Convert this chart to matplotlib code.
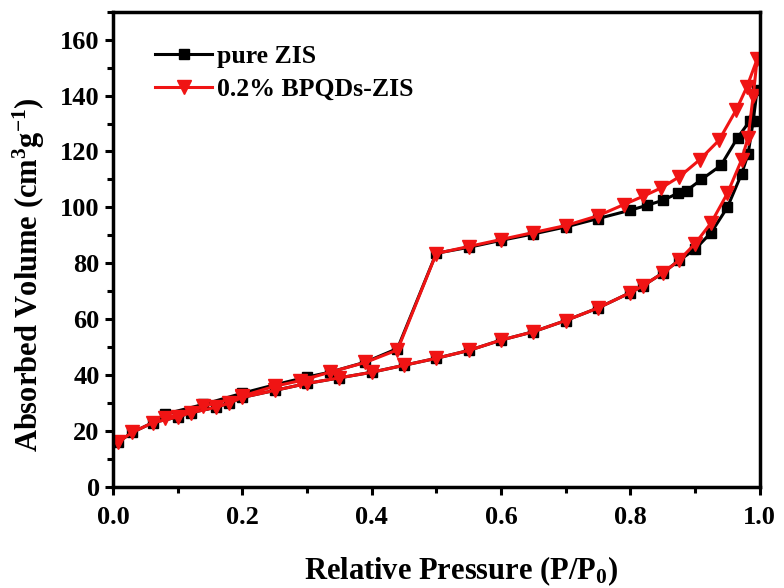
import matplotlib
matplotlib.use("Agg")
import matplotlib.pyplot as plt
from matplotlib.ticker import MultipleLocator

plt.rcParams['font.family'] = ['Liberation Serif', 'DejaVu Serif']
plt.rcParams['font.weight'] = 'bold'
plt.rcParams['mathtext.fontset'] = 'custom'
plt.rcParams['mathtext.rm'] = 'Liberation Serif:bold'
plt.rcParams['mathtext.bf'] = 'Liberation Serif:bold'
plt.rcParams['mathtext.it'] = 'Liberation Serif:bold'
plt.rcParams['mathtext.default'] = 'rm'

# pure ZIS
black_ads_x = [0.008, 0.03, 0.062, 0.10, 0.12, 0.16, 0.18, 0.20, 0.25, 0.30, 0.35, 0.40, 0.45,
               0.50, 0.55, 0.60, 0.65, 0.70, 0.75, 0.80, 0.82, 0.85, 0.875, 0.90, 0.925, 0.95,
               0.972, 0.982, 0.99, 0.996]
black_ads_y = [16, 19.5, 23, 25, 26.5, 28.5, 30, 32, 34.5, 37, 39, 41, 43.5,
               46, 48.8, 52.5, 55.5, 59.5, 64, 69.5, 72, 76.5, 81, 85, 91, 100,
               112, 119, 131, 142]
black_des_x = [0.985, 0.966, 0.94, 0.91, 0.887, 0.873, 0.85, 0.825, 0.80, 0.75, 0.70, 0.65,
               0.60, 0.55, 0.50, 0.44, 0.39, 0.335, 0.30, 0.25, 0.20, 0.14, 0.08]
black_des_y = [131, 125, 115, 110, 106, 105, 102.5, 100.7, 99, 96, 93, 90.5,
               88.2, 85.7, 83.6, 49.5, 44.6, 41, 39.3, 36.5, 33.5, 29.5, 26]

# 0.2% BPQDs-ZIS
red_ads_x = [0.008, 0.03, 0.062, 0.10, 0.12, 0.16, 0.18, 0.20, 0.25, 0.30, 0.35, 0.40, 0.45,
             0.50, 0.55, 0.60, 0.65, 0.70, 0.75, 0.80, 0.82, 0.85, 0.875, 0.90, 0.925, 0.95,
             0.972, 0.982, 0.99, 0.996]
red_ads_y = [16, 19.5, 23, 25, 26.5, 28.5, 30, 32, 34.5, 37, 39, 41, 43.5,
             46, 48.8, 52.5, 55.5, 59.5, 64, 69.5, 72, 76.5, 81, 87, 94.5, 105,
             117, 125, 140, 153]
red_des_x = [0.98, 0.964, 0.937, 0.907, 0.876, 0.848, 0.82, 0.79, 0.75, 0.70, 0.65,
             0.60, 0.55, 0.50, 0.44, 0.39, 0.335, 0.29, 0.25, 0.20, 0.14, 0.08]
red_des_y = [143, 135, 124, 117, 111, 107, 104, 101, 97, 93.5, 91,
             88.5, 86, 83.5, 49, 44.5, 41, 38, 36, 32.5, 28.8, 24.5]

labels = ['pure ZIS', '0.2% BPQDs-ZIS']
x_ticks = [0.0, 0.2, 0.4, 0.6, 0.8, 1.0]
y_ticks = [0, 20, 40, 60, 80, 100, 120, 140, 160]

fig = plt.figure(figsize=(7.84, 5.88), dpi=100)
ax = fig.add_axes([0.144, 0.172, 0.825, 0.808])

ax.plot(black_ads_x + black_des_x, black_ads_y + black_des_y, color='black', lw=2.2,
        marker='s', markersize=7, label=labels[0])
ax.plot(red_ads_x + red_des_x, red_ads_y + red_des_y, color='#f01414', lw=2.2,
        marker='v', markersize=10, label=labels[1])

ax.set_xlim(0, 1.0)
ax.set_ylim(0, 170)
ax.set_xticks(x_ticks)
ax.set_yticks(y_ticks)
ax.set_xticklabels([f"{v:.1f}" for v in x_ticks])
ax.xaxis.set_minor_locator(MultipleLocator(0.1))
ax.yaxis.set_minor_locator(MultipleLocator(10))
ax.tick_params(axis='both', which='major', direction='out', length=6, width=2.2,
               labelsize=19, top=False, right=False)
ax.tick_params(axis='x', which='major', pad=8)
ax.tick_params(axis='both', which='minor', direction='out', length=4, width=2.2,
               top=False, right=False)
for lab in ax.get_xticklabels() + ax.get_yticklabels():
    lab.set_fontweight('bold')
for s in ax.spines.values():
    s.set_linewidth(2.5)

ax.set_xlabel('Relative Pressure (P/P$_0$)', fontsize=22, fontweight='bold')
ax.set_ylabel('Absorbed Volume (cm$^3$g$^{-1}$)', fontsize=22, fontweight='bold')
ax.xaxis.set_label_coords(0.538, -0.143)
ax.yaxis.set_label_coords(-0.102, 0.446)

ax.legend(loc='upper left', bbox_to_anchor=(0.03, 0.979), frameon=False,
          prop={'family': 'Liberation Serif', 'weight': 'bold', 'size': 18.5},
          handlelength=2.2, handletextpad=0.2, labelspacing=0.4)

fig.savefig('out.png', dpi=100)
